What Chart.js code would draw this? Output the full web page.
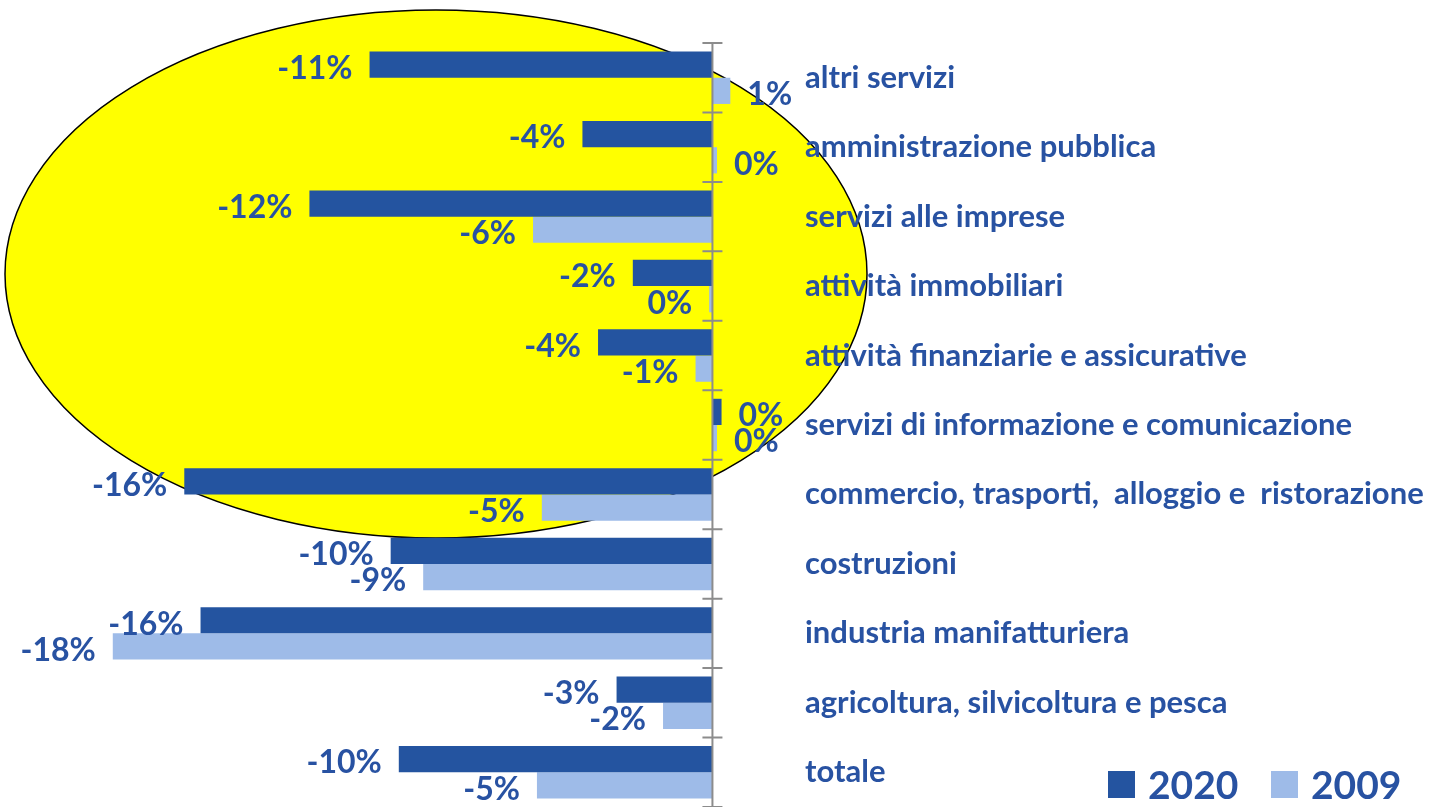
<!DOCTYPE html>
<html>
<head>
<meta charset="utf-8">
<script src="https://cdn.jsdelivr.net/npm/chart.js@4/dist/chart.umd.min.js"></script>
<style>
  html, body { margin: 0; padding: 0; background: #fff; }
  #wrap { width: 1435px; height: 807px; position: relative; }
</style>
</head>
<body>
<div id="wrap"><canvas id="myChart"></canvas></div>
<script>
// categorie (dall'alto verso il basso)
const categorie = [
    'altri servizi',
    'amministrazione pubblica',
    'servizi alle imprese',
    'attività immobiliari',
    'attività finanziarie e assicurative',
    'servizi di informazione e comunicazione',
    'commercio, trasporti,  alloggio e  ristorazione',
    'costruzioni',
    'industria manifatturiera',
    'agricoltura, silvicoltura e pesca',
    'totale'
];

// variazioni percentuali
const valori2020 = [-10.55, -4.0, -12.4, -2.45, -3.52, 0.28, -16.25, -9.9, -15.75, -2.95, -9.65];
const valori2009 = [0.55, 0.14, -5.52, -0.1, -0.52, 0.14, -5.25, -8.9, -18.45, -1.52, -5.4];

const serie = ['2020', '2009'];

const BLU = '#2454A0';
const AZZURRO = '#9EBBE8';
const TESTO = '#2852A2';
const FONT = 'Lato, "Open Sans", sans-serif';

// ellisse gialla di sfondo
const ellissePlugin = {
    id: 'ellisse',
    beforeDraw(chart) {
        const ctx = chart.ctx;
        ctx.save();
        ctx.beginPath();
        ctx.ellipse(436, 274, 431, 264, 0, 0, Math.PI * 2);
        ctx.fillStyle = '#FFFF00';
        ctx.fill();
        ctx.lineWidth = 1.5;
        ctx.strokeStyle = '#000';
        ctx.stroke();
        ctx.restore();
    }
};

// asse dello zero con tacche tra le categorie
const assePlugin = {
    id: 'asseZero',
    afterDatasetsDraw(chart) {
        const ctx = chart.ctx;
        const x0 = chart.scales.x.getPixelForValue(0);
        const area = chart.chartArea;
        const passo = (area.bottom - area.top) / categorie.length;
        ctx.save();
        ctx.strokeStyle = '#8C8C8C';
        ctx.lineWidth = 2;
        ctx.beginPath();
        ctx.moveTo(x0, area.top);
        ctx.lineTo(x0, area.bottom);
        for (let i = 0; i <= categorie.length; i++) {
            const y = area.top + i * passo;
            ctx.moveTo(x0 - 10, y);
            ctx.lineTo(x0 + 10, y);
        }
        ctx.stroke();
        ctx.restore();
    }
};

// etichette dei valori accanto alle barre
const etichettePlugin = {
    id: 'etichette',
    afterDatasetsDraw(chart) {
        const ctx = chart.ctx;
        ctx.save();
        ctx.font = 'bold 32px ' + FONT;
        ctx.fillStyle = TESTO;
        ctx.textBaseline = 'middle';
        chart.data.datasets.forEach((ds, d) => {
            chart.getDatasetMeta(d).data.forEach((bar, i) => {
                const v = ds.data[i];
                const testo = `${Math.round(v) || 0}%`;
                if (v < 0) {
                    ctx.textAlign = 'right';
                    ctx.fillText(testo, bar.x - 17, bar.y + 4);
                } else {
                    ctx.textAlign = 'left';
                    ctx.fillText(testo, bar.x + 17, bar.y + 4);
                }
            });
        });
        ctx.restore();
    }
};

// legenda in basso a destra
const legendaPlugin = {
    id: 'legenda',
    afterDraw(chart) {
        const ctx = chart.ctx;
        const pos = [1108, 1271];
        ctx.save();
        ctx.font = 'bold 39px ' + FONT;
        ctx.textBaseline = 'middle';
        ctx.textAlign = 'left';
        chart.data.datasets.forEach((ds, d) => {
            ctx.fillStyle = ds.backgroundColor;
            ctx.fillRect(pos[d], 771, 27, 27);
            ctx.fillStyle = TESTO;
            ctx.fillText(ds.label, pos[d] + 40, 786);
        });
        ctx.restore();
    }
};

const ctx = document.getElementById('myChart').getContext('2d');
new Chart(ctx, {
    type: 'bar',
    data: {
        labels: categorie,
        datasets: [
            { label: serie[0], data: valori2020, backgroundColor: BLU },
            { label: serie[1], data: valori2009, backgroundColor: AZZURRO }
        ]
    },
    options: {
        indexAxis: 'y',
        responsive: true,
        maintainAspectRatio: false,
        animation: false,
        categoryPercentage: 0.755,
        barPercentage: 1.0,
        layout: { padding: { top: 43, bottom: 0, left: 0, right: 0 } },
        plugins: {
            legend: { display: false },
            tooltip: { enabled: false }
        },
        scales: {
            x: {
                display: false,
                min: -21.92,
                max: 2.54
            },
            y: {
                position: 'right',
                grid: { display: false, drawTicks: false },
                border: { display: false },
                ticks: {
                    color: TESTO,
                    font: { family: FONT, size: 31, weight: 'bold' },
                    padding: 10
                },
                afterFit(scale) {
                    scale.width = 640;
                    scale.paddingTop = 0;
                    scale.paddingBottom = 0;
                }
            }
        }
    },
    plugins: [ellissePlugin, assePlugin, etichettePlugin, legendaPlugin]
});
</script>
</body>
</html>
